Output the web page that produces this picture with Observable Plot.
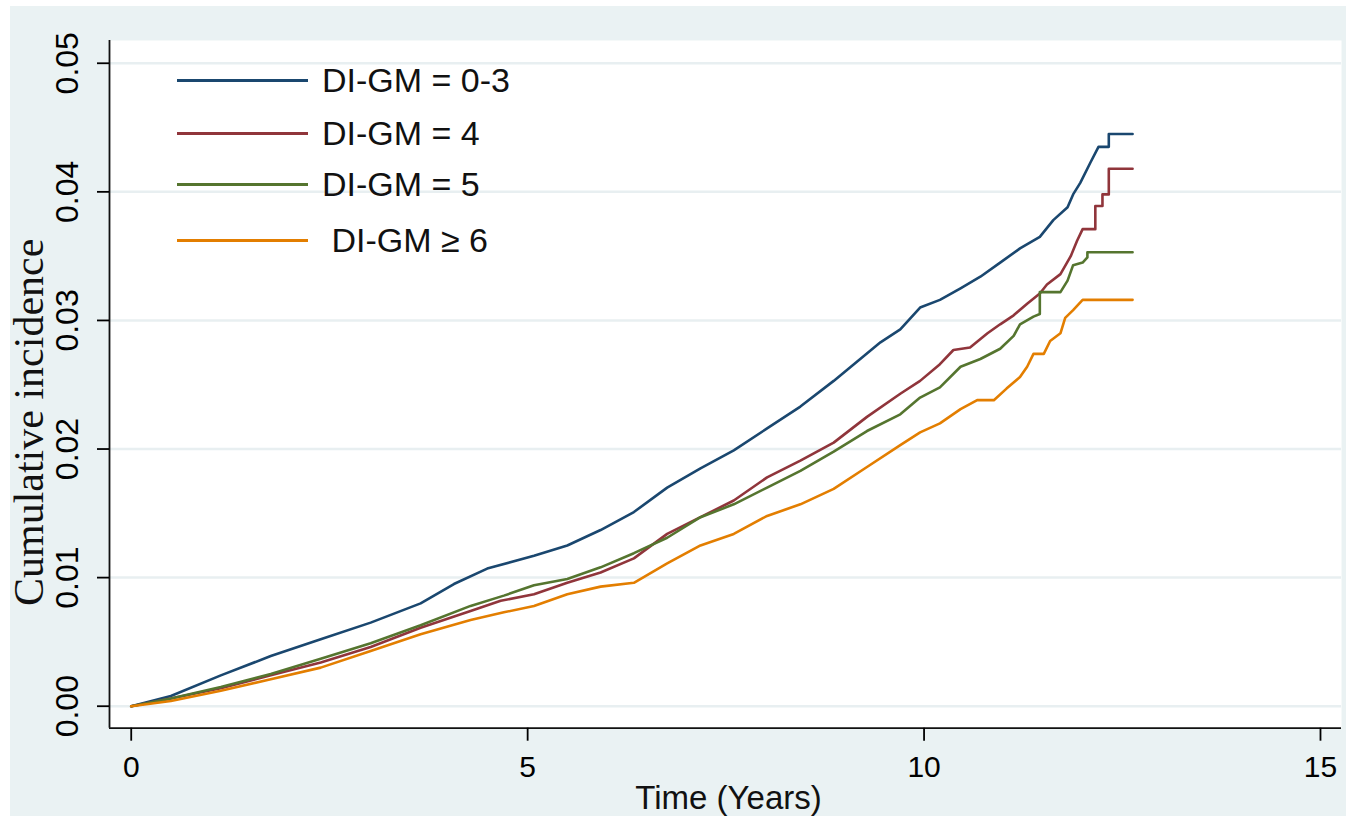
<!DOCTYPE html>
<html>
<head>
<meta charset="utf-8">
<script src="https://cdn.jsdelivr.net/npm/d3@7"></script>
<script src="https://cdn.jsdelivr.net/npm/@observablehq/plot@0.6"></script>
<style>
  html, body { margin: 0; padding: 0; background: #ffffff; }
  #wrap { position: relative; width: 1351px; height: 821px; overflow: hidden; }
  #panel { position: absolute; left: 10px; top: 6px; width: 1336px; height: 810px; background: #eaf2f3; }
  #chart { position: absolute; left: 0; top: 0; }
  #legend { position: absolute; left: 0; top: 0; font-family: "Liberation Sans", Arial, sans-serif; font-size: 34px; color: #111; }
  .row { position: absolute; height: 40px; display: flex; align-items: center; white-space: pre; }
  .swatch { display: inline-block; width: 131px; height: 3px; }
</style>
</head>
<body>
<div id="wrap">
  <div id="panel"></div>
  <div id="chart"></div>
  <div id="legend"></div>
</div>
<script>
// ---- data ----
const groups = ["DI-GM = 0-3", "DI-GM = 4", "DI-GM = 5", "DI-GM \u2265 6"];
const legendLabels = ["DI-GM = 0-3", "DI-GM = 4", "DI-GM = 5", " DI-GM \u2265 6"];
const colors = ["#1a476f", "#90353b", "#55752f", "#e37e00"];

const timeG03 = [0, 0.5, 1.13, 1.76, 2.39, 3.02, 3.65, 4.07, 4.49, 5.08, 5.5, 5.92, 6.34, 6.76, 7.18, 7.6, 8.02, 8.44, 8.86, 9.45, 9.7, 9.95, 10.2, 10.46, 10.71, 10.96, 11.21, 11.46, 11.63, 11.81, 11.88, 11.97, 12.1, 12.2, 12.33, 12.33, 12.63];
const incG03  = [0, 0.0008, 0.0024, 0.0039, 0.0052, 0.0065, 0.0080, 0.0095, 0.0107, 0.0117, 0.0125, 0.0137, 0.0151, 0.0170, 0.0185, 0.0199, 0.0216, 0.0233, 0.0253, 0.0283, 0.0293, 0.0310, 0.0316, 0.0325, 0.0334, 0.0345, 0.0356, 0.0365, 0.0378, 0.0388, 0.0398, 0.0407, 0.0423, 0.0435, 0.0435, 0.0445, 0.0445];

const timeG4 = [0, 0.5, 1.13, 1.76, 2.39, 3.02, 3.65, 4.28, 4.66, 5.08, 5.5, 5.92, 6.34, 6.76, 7.18, 7.6, 8.02, 8.44, 8.86, 9.28, 9.7, 9.95, 10.2, 10.37, 10.58, 10.8, 10.96, 11.13, 11.3, 11.46, 11.55, 11.72, 11.85, 11.93, 12.0, 12.16, 12.16, 12.25, 12.25, 12.33, 12.33, 12.63];
const incG4  = [0, 0.0006, 0.0014, 0.0024, 0.0034, 0.0046, 0.0061, 0.0074, 0.0082, 0.0087, 0.0096, 0.0104, 0.0115, 0.0134, 0.0147, 0.0160, 0.0178, 0.0191, 0.0205, 0.0225, 0.0243, 0.0253, 0.0266, 0.0277, 0.0279, 0.0290, 0.0297, 0.0304, 0.0313, 0.0321, 0.0328, 0.0336, 0.0350, 0.0362, 0.0371, 0.0371, 0.0389, 0.0389, 0.0398, 0.0398, 0.0418, 0.0418];

const timeG5 = [0, 0.5, 1.13, 1.76, 2.39, 3.02, 3.65, 4.28, 4.7, 5.08, 5.5, 5.92, 6.34, 6.76, 7.18, 7.6, 8.02, 8.44, 8.86, 9.28, 9.7, 9.95, 10.2, 10.46, 10.71, 10.96, 11.13, 11.21, 11.38, 11.46, 11.46, 11.72, 11.81, 11.88, 12.0, 12.06, 12.06, 12.63];
const incG5  = [0, 0.0006, 0.0015, 0.0025, 0.0037, 0.0049, 0.0063, 0.0078, 0.0086, 0.0094, 0.0099, 0.0108, 0.0119, 0.0131, 0.0147, 0.0157, 0.0170, 0.0183, 0.0198, 0.0214, 0.0227, 0.0240, 0.0248, 0.0264, 0.0270, 0.0278, 0.0288, 0.0297, 0.0303, 0.0305, 0.0322, 0.0322, 0.0331, 0.0343, 0.0345, 0.0349, 0.0353, 0.0353];

const timeG6 = [0, 0.5, 1.13, 1.76, 2.39, 3.02, 3.65, 4.28, 4.7, 5.08, 5.5, 5.92, 6.34, 6.76, 7.18, 7.6, 8.02, 8.44, 8.86, 9.28, 9.7, 9.95, 10.2, 10.46, 10.67, 10.88, 11.04, 11.21, 11.3, 11.38, 11.51, 11.59, 11.72, 11.78, 11.88, 12.0, 12.63];
const incG6  = [0, 0.0004, 0.0012, 0.0021, 0.0030, 0.0043, 0.0056, 0.0067, 0.0073, 0.0078, 0.0087, 0.0093, 0.0096, 0.0111, 0.0125, 0.0134, 0.0148, 0.0157, 0.0169, 0.0186, 0.0203, 0.0213, 0.0220, 0.0231, 0.0238, 0.0238, 0.0247, 0.0256, 0.0264, 0.0274, 0.0274, 0.0284, 0.0290, 0.0302, 0.0308, 0.0316, 0.0316];

const xTicks = [0, 5, 10, 15];
const yTicks = [0, 0.01, 0.02, 0.03, 0.04, 0.05];
const xDomain = [-0.274, 15.265];
const yDomain = [-0.00171, 0.05177];
const xTitle = "Time (Years)";
const yTitle = "Cumulative incidence";

// ---- build table ----
const seriesTimes = [timeG03, timeG4, timeG5, timeG6];
const seriesVals = [incG03, incG4, incG5, incG6];
const rows = [];
groups.forEach((g, i) => {
  seriesTimes[i].forEach((t, j) => rows.push({group: g, t, v: seriesVals[i][j]}));
});

const chart = Plot.plot({
  width: 1351,
  height: 821,
  marginLeft: 109,
  marginRight: 10,
  marginTop: 40,
  marginBottom: 93.3,
  style: {background: "transparent", color: "#000", fontFamily: "'Liberation Sans', Arial, sans-serif", overflow: "visible"},
  x: {domain: xDomain},
  y: {domain: yDomain},
  color: {domain: groups, range: colors},
  marks: [
    Plot.frame({fill: "white", stroke: "none"}),
    Plot.gridY(yTicks, {stroke: "#e8eff1", strokeOpacity: 1, strokeWidth: 2.5}),
    Plot.line(rows, {x: "t", y: "v", z: "group", stroke: "group", strokeWidth: 2.6, curve: "linear"}),
    Plot.ruleX([xDomain[0]], {stroke: "#111", strokeWidth: 1.8}),
    Plot.ruleY([yDomain[0]], {stroke: "#111", strokeWidth: 1.8}),
    Plot.axisY(yTicks, {tickSize: 12, tickRotate: -90, tickPadding: 20, tickFormat: d => d.toFixed(2), fontSize: 32, strokeWidth: 1.8, label: null}),
    Plot.axisX(xTicks, {tickSize: 13, tickPadding: 14, tickFormat: d => String(d), fontSize: 30, strokeWidth: 1.8, label: null}),
    Plot.text([xTitle], {text: d => d, frameAnchor: "bottom", textAnchor: "middle", lineAnchor: "top", dy: 57, dx: 3, fontSize: 33, fill: "#111"}),
    Plot.text([yTitle], {text: d => d, frameAnchor: "left", textAnchor: "middle", rotate: -90, dx: -80, dy: 38, fontSize: 42, fill: "#111", fontFamily: "'Liberation Serif', 'Times New Roman', serif"})
  ]
});
document.getElementById("chart").appendChild(chart);

// ---- legend (inside the plot region, upper left) ----
const legendTop = [80, 133, 184, 240];
const legendGap = [14, 14, 14, 14];
const legend = document.getElementById("legend");
groups.forEach((g, i) => {
  const row = document.createElement("div");
  row.className = "row";
  row.style.left = "177px";
  row.style.top = (legendTop[i] - 20) + "px";
  const sw = document.createElement("span");
  sw.className = "swatch";
  sw.style.background = colors[i];
  const tx = document.createElement("span");
  tx.textContent = legendLabels[i];
  tx.style.marginLeft = legendGap[i] + "px";
  row.appendChild(sw);
  row.appendChild(tx);
  legend.appendChild(row);
});
</script>
</body>
</html>
